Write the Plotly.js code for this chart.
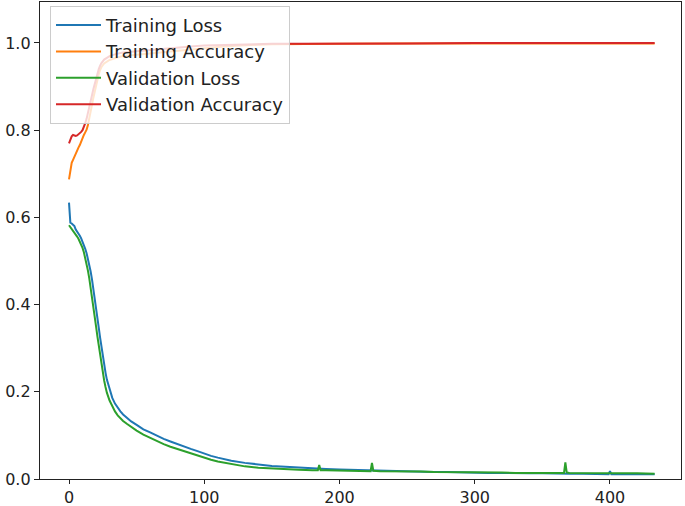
<!DOCTYPE html>
<html>
<head>
<meta charset="utf-8">
<script src="https://cdn.plot.ly/plotly-3.0.1.min.js"></script>
<style>
  html, body { margin: 0; padding: 0; background: #fff; }
  #MainGraphView { width: 685px; height: 506px; }
</style>
</head>
<body>
<div id="MainGraphView"></div>
<script>
// loss curves (epochs, spikes kept as their own points)
var lossEpochs = [0,1,2,3,4,5,6,7,8,9,10,11,12,13,14,15,16,17,18,19,20,21,22,23,24,25,26,27,28,30,32,34,36,38,40,43,46,50,55,60,65,70,75,80,85,90,95,100,105,110,120,130,140,150,160,170,180,184,185,186,190,200,210,220,223,224,225,230,240,250,260,270,280,290,300,310,320,330,340,350,360,366,367,368,370,380,390,399,400,401,410,420,433];
var trainLoss = [0.634,0.588,0.586,0.584,0.580,0.572,0.568,0.564,0.558,0.552,0.545,0.537,0.528,0.518,0.506,0.492,0.476,0.458,0.438,0.416,0.393,0.370,0.347,0.324,0.302,0.281,0.262,0.244,0.228,0.204,0.186,0.173,0.163,0.155,0.148,0.140,0.132,0.124,0.114,0.107,0.099,0.092,0.086,0.080,0.075,0.069,0.064,0.058,0.053,0.049,0.042,0.037,0.033,0.030,0.028,0.026,0.025,0.024,0.024,0.024,0.023,0.022,0.021,0.020,0.020,0.020,0.020,0.019,0.018,0.018,0.017,0.016,0.016,0.015,0.015,0.014,0.014,0.013,0.013,0.013,0.012,0.012,0.012,0.012,0.012,0.012,0.011,0.011,0.018,0.011,0.011,0.011,0.011];
var valLoss = [0.582,0.578,0.574,0.570,0.566,0.561,0.556,0.551,0.545,0.538,0.530,0.520,0.508,0.494,0.478,0.460,0.440,0.418,0.395,0.372,0.350,0.327,0.305,0.283,0.262,0.243,0.226,0.211,0.198,0.180,0.166,0.155,0.146,0.139,0.133,0.126,0.119,0.111,0.102,0.094,0.087,0.080,0.074,0.069,0.064,0.058,0.053,0.048,0.044,0.040,0.034,0.029,0.026,0.024,0.022,0.021,0.020,0.020,0.032,0.020,0.020,0.019,0.019,0.018,0.018,0.037,0.019,0.018,0.018,0.017,0.017,0.016,0.016,0.016,0.015,0.015,0.015,0.014,0.014,0.014,0.014,0.014,0.038,0.015,0.014,0.014,0.013,0.013,0.013,0.013,0.013,0.013,0.012];

// accuracy curves
var accEpochs = [0,1,2,3,4,5,6,7,8,9,10,11,12,13,14,15,16,17,18,19,20,21,22,23,24,26,28,30,35,40,50,60,70,80,90,100,110,120,130,140,150,170,200,250,300,350,400,433];
var trainAcc = [0.687,0.712,0.725,0.732,0.740,0.748,0.755,0.760,0.766,0.775,0.782,0.789,0.795,0.801,0.812,0.825,0.842,0.858,0.874,0.889,0.903,0.916,0.928,0.938,0.945,0.953,0.958,0.961,0.966,0.970,0.973,0.976,0.980,0.983,0.985,0.988,0.991,0.993,0.995,0.996,0.997,0.998,0.998,0.999,0.999,0.999,0.999,0.999];
var valAcc = [0.770,0.781,0.786,0.789,0.788,0.787,0.788,0.790,0.793,0.796,0.800,0.807,0.816,0.826,0.838,0.852,0.866,0.880,0.894,0.907,0.919,0.930,0.940,0.948,0.954,0.962,0.967,0.970,0.975,0.978,0.981,0.984,0.987,0.990,0.992,0.994,0.995,0.996,0.997,0.998,0.998,0.998,0.999,0.999,1.000,1.000,1.000,1.000];

var names = ['Training Loss','Training Accuracy','Validation Loss','Validation Accuracy'];
var colors = ['#1f77b4','#ff7f0e','#2ca02c','#d62728'];

var data = [
    {x: lossEpochs, y: trainLoss, name: names[0]},
    {x: accEpochs, y: trainAcc, name: names[1]},
    {x: lossEpochs, y: valLoss, name: names[2]},
    {x: accEpochs, y: valAcc, name: names[3]}
];
for (var i = 0; i < data.length; i++) {
    data[i].type = 'scatter';
    data[i].mode = 'lines';
    data[i].line = {color: colors[i], width: 2};
}

var axisStyle = {
    showline: true,
    mirror: true,
    linecolor: '#222',
    linewidth: 1.2,
    ticks: 'outside',
    ticklen: 5,
    tickcolor: '#222',
    showgrid: false,
    zeroline: false,
    tickfont: {family: 'DejaVu Sans', size: 16, color: '#222'}
};

var layout = {
    width: 685,
    height: 506,
    margin: {l: 40, r: 4, t: 2, b: 27},
    paper_bgcolor: '#fff',
    plot_bgcolor: '#fff',
    showlegend: true,
    legend: {
        x: 0.0156, y: 0.992, xanchor: 'left', yanchor: 'top',
        bgcolor: 'rgba(255,255,255,0.8)',
        bordercolor: '#cccccc',
        borderwidth: 1,
        itemwidth: 45,
        font: {family: 'DejaVu Sans', size: 18, color: '#222'}
    },
    xaxis: Object.assign({range: [-21.44, 452.5], tickvals: [0,100,200,300,400]}, axisStyle, {ticklen: 4}),
    yaxis: Object.assign({range: [0, 1.094], tickvals: [0,0.2,0.4,0.6,0.8,1.0], tickformat: '.1f'}, axisStyle)
};

Plotly.newPlot('MainGraphView', data, layout, {staticPlot: true});
</script>
</body>
</html>
